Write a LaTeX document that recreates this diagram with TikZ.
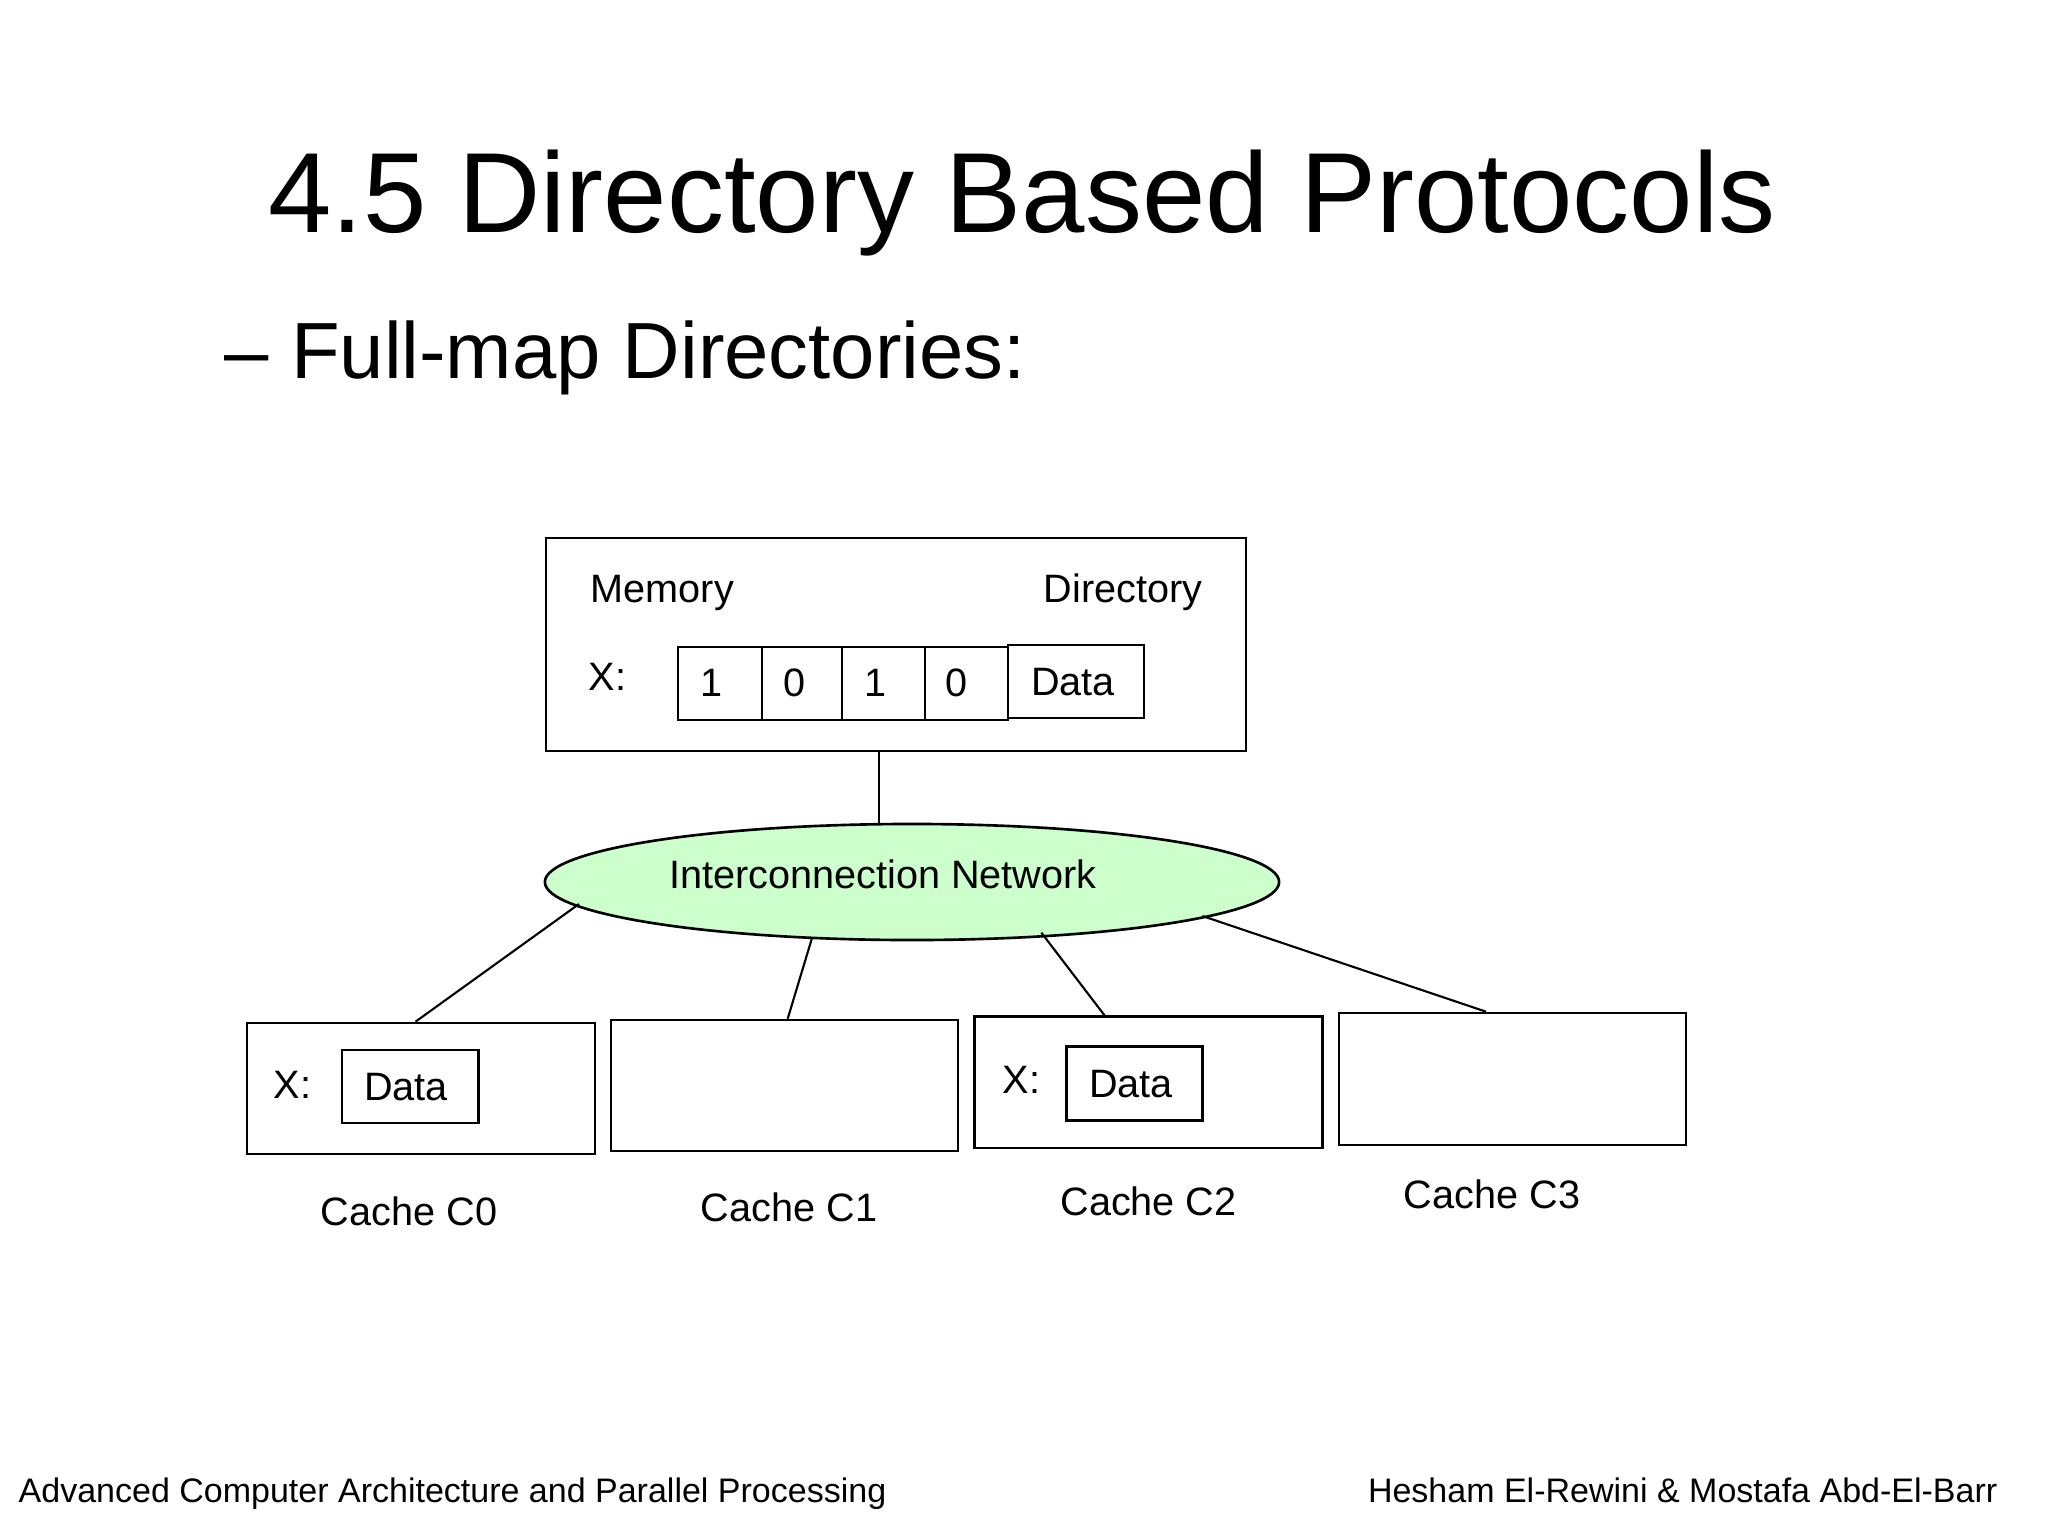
\documentclass[tikz,border=0pt]{standalone}
\usepackage{fontspec}
\setmainfont{Liberation Sans}
\usetikzlibrary{shapes.geometric,fit}
\definecolor{netgreen}{RGB}{204,255,204}
\begin{document}
\begin{tikzpicture}[x=0.01cm,y=-0.01cm,
  box/.style={draw, line width=0.75pt, inner sep=0pt, fit={#1}},
  conn/.style={draw, line width=0.6pt},
  lbl/.style={font=\fontsize{11.27}{13}\selectfont, inner sep=0pt},
  titlef/.style={font=\fontsize{32.4}{38}\selectfont, inner sep=0pt},
  subf/.style={font=\fontsize{22.65}{26}\selectfont, inner sep=0pt},
  footf/.style={font=\fontsize{9.67}{11}\selectfont, inner sep=0pt}]
\useasboundingbox[fill=white] (0,0) rectangle (2048,1536);

% titles
\node[titlef, anchor=base] (title) at (1022,232) {4.5 Directory Based Protocols};
\node[subf, anchor=base west] (sub) at (224,378) {– Full-map Directories:};

% memory box
\node[box={(546,538) (1246,751)}] (mem) {};
\node[lbl, anchor=base west] (memlbl) at (590,602) {Memory};
\node[lbl, anchor=base west] (dirlbl) at (1043,602) {Directory};
\node[lbl, anchor=base west] (mx) at (588,690) {X:};
\node[box={(678,647) (762,720)}] (b0) {};
\node[box={(762,647) (842,720)}] (b1) {};
\node[box={(842,647) (925,720)}] (b2) {};
\node[box={(925,647) (1008,720)}] (b3) {};
\node[box={(1008,645) (1144,718)}] (md) {};
\node[lbl, anchor=base] (d0) at (712,696) {1};
\node[lbl, anchor=base] (d1) at (795,696) {0};
\node[lbl, anchor=base] (d2) at (876,696) {1};
\node[lbl, anchor=base] (d3) at (956.5,696) {0};
\node[lbl, anchor=base] (mdl) at (1073,695) {Data};

% network
\node[ellipse, draw, fill=netgreen, line width=0.75pt, minimum width=208.8pt,
      minimum height=33pt, inner sep=0pt] (net) at (912,882) {};
\node[lbl, anchor=base] (netlbl) at (883,888) {Interconnection Network};

% caches
\node[box={(247,1023) (595,1154)}] (c0) {};
\node[box={(611,1020) (958,1151)}] (c1) {};
\node[box={(974.5,1016.7) (1322.6,1148)}] (c2) {};
\node[box={(1339,1013) (1686,1145)}] (c3) {};
\node[box={(342,1050) (478.5,1123)}] (c0d) {};
\node[box={(1066.6,1046.7) (1202.4,1120.7)}] (c2d) {};
\node[lbl, anchor=base west] (c0x) at (273,1098) {X:};
\node[lbl, anchor=base] (c0dl) at (406,1100) {Data};
\node[lbl, anchor=base west] (c2x) at (1002,1093) {X:};
\node[lbl, anchor=base] (c2dl) at (1131,1097) {Data};

\node[lbl, anchor=base] (l0) at (409,1225) {Cache C0};
\node[lbl, anchor=base] (l1) at (789,1221.5) {Cache C1};
\node[lbl, anchor=base] (l2) at (1148.5,1215) {Cache C2};
\node[lbl, anchor=base] (l3) at (1492,1208) {Cache C3};

% connectors
\draw[conn] ([shift={(-17,0)}]mem.south) -- ([shift={(-33,0)}]net.north);
\draw[conn] ([shift={(-333,22)}]net.center) -- ([shift={(-5.5,0)}]c0.north);
\draw[conn] ([shift={(-100,56)}]net.center) -- ([shift={(3.2,0)}]c1.north);
\draw[conn] ([shift={(129.4,50.7)}]net.center) -- ([shift={(-44,0)}]c2.north);
\draw[conn] ([shift={(290.4,34)}]net.center) -- ([shift={(-26.5,0)}]c3.north);

% footer
\node[footf, anchor=base west] (fl) at (18,1502) {Advanced Computer Architecture and Parallel Processing};
\node[footf, anchor=base east] (fr) at (1998,1502) {Hesham El-Rewini \& Mostafa Abd-El-Barr};
\end{tikzpicture}
\end{document}
